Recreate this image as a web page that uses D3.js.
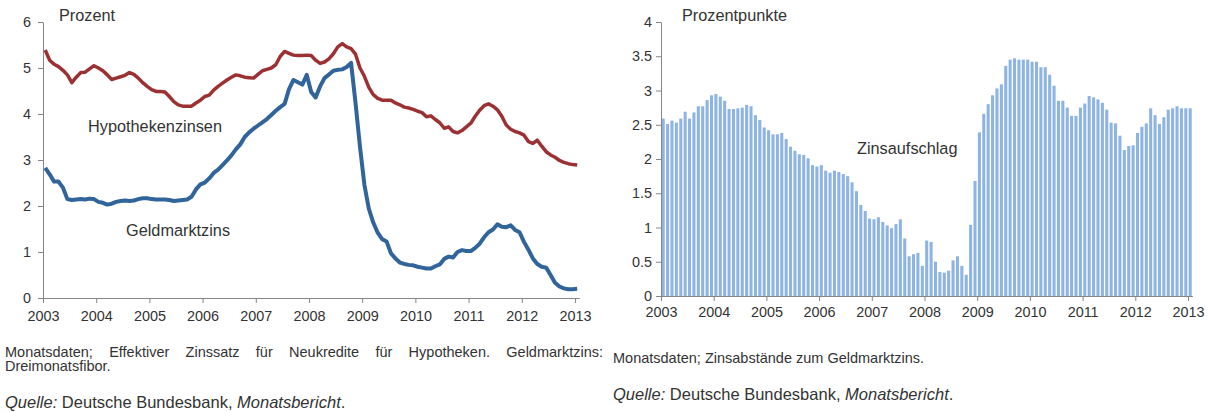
<!DOCTYPE html>
<html>
<head>
<meta charset="utf-8">
<script src="https://cdn.jsdelivr.net/npm/d3@7"></script>
<style>
  body { margin: 0; background: #fff; }
  svg { display: block; font-family: Arial, "Liberation Sans", sans-serif; }
  .axis path, .axis line { stroke: #868686; stroke-width: 1; }
  .axis text { fill: #333; font-size: 14.4px; }
  .label { fill: #333; font-size: 16.3px; }
  .note { fill: #333; font-size: 14.5px; }
  .source { fill: #333; font-size: 16.5px; }
</style>
</head>
<body>
<svg id="chart" width="1211" height="412"></svg>
<script>
// month categories Jan 2003 .. Jan 2013
const months = d3.range(121).map(i => (2003 + Math.floor(i / 12)) + "-" + String(i % 12 + 1).padStart(2, "0"));
const years = ["2003", "2004", "2005", "2006", "2007", "2008", "2009", "2010", "2011", "2012", "2013"];

// Hypothekenzinsen (Prozent)
const hypothek = [
  5.39, 5.17, 5.08, 5.03, 4.95, 4.85, 4.68, 4.80, 4.90, 4.91, 4.98, 5.05,
  5.00, 4.94, 4.85, 4.75, 4.78, 4.81, 4.84, 4.90, 4.86, 4.78, 4.68, 4.60,
  4.53, 4.49, 4.49, 4.48, 4.38, 4.27, 4.20, 4.17, 4.17, 4.17, 4.24, 4.30,
  4.38, 4.41, 4.52, 4.60, 4.67, 4.74, 4.80, 4.85, 4.83, 4.80, 4.79, 4.78,
  4.86, 4.94, 4.97, 5.00, 5.07, 5.25, 5.36, 5.32, 5.28, 5.27, 5.27, 5.28,
  5.27, 5.17, 5.10, 5.13, 5.20, 5.31, 5.46, 5.53, 5.46, 5.42, 5.30, 5.00,
  4.82, 4.58, 4.42, 4.34, 4.30, 4.30, 4.30, 4.24, 4.20, 4.15, 4.13, 4.10,
  4.06, 4.03, 3.94, 3.96, 3.88, 3.81, 3.69, 3.72, 3.62, 3.59, 3.64, 3.72,
  3.80, 3.95, 4.08, 4.18, 4.22, 4.17, 4.09, 3.95, 3.76, 3.67, 3.62, 3.59,
  3.54, 3.40, 3.36, 3.43, 3.30, 3.18, 3.11, 3.06, 2.99, 2.95, 2.92, 2.90,
  2.89
];

// Geldmarktzins, Dreimonatsfibor (Prozent)
const geldmarkt = [
  2.83, 2.69, 2.53, 2.53, 2.40, 2.15, 2.13, 2.14, 2.15, 2.14, 2.16, 2.15,
  2.09, 2.07, 2.03, 2.05, 2.09, 2.11, 2.12, 2.11, 2.12, 2.15, 2.17, 2.17,
  2.15, 2.14, 2.14, 2.14, 2.13, 2.11, 2.12, 2.13, 2.14, 2.20, 2.36, 2.47,
  2.51, 2.60, 2.72, 2.79, 2.89, 2.99, 3.10, 3.23, 3.34, 3.50, 3.60, 3.68,
  3.75, 3.82, 3.89, 3.98, 4.07, 4.15, 4.22, 4.54, 4.74, 4.69, 4.64, 4.85,
  4.48, 4.36, 4.60, 4.78, 4.86, 4.94, 4.96, 4.97, 5.02, 5.11, 4.24, 3.29,
  2.46, 1.94, 1.64, 1.42, 1.28, 1.23, 0.97, 0.86, 0.77, 0.74, 0.72, 0.71,
  0.68, 0.66, 0.64, 0.64, 0.69, 0.73, 0.85, 0.90, 0.88, 1.00, 1.04, 1.02,
  1.02, 1.09, 1.18, 1.32, 1.43, 1.49, 1.60, 1.55, 1.54, 1.58, 1.48, 1.43,
  1.22, 1.05, 0.86, 0.74, 0.68, 0.66, 0.50, 0.33, 0.25, 0.21, 0.19, 0.19,
  0.20
];

// Zinsaufschlag (Prozentpunkte)
const aufschlag = [
  2.59, 2.51, 2.56, 2.53, 2.59, 2.69, 2.59, 2.68, 2.77, 2.77, 2.86, 2.93,
  2.95, 2.91, 2.85, 2.73, 2.73, 2.74, 2.75, 2.79, 2.77, 2.64, 2.57, 2.46,
  2.42, 2.36, 2.36, 2.38, 2.29, 2.18, 2.12, 2.07, 2.06, 2.01, 1.91, 1.89,
  1.91, 1.83, 1.80, 1.83, 1.81, 1.78, 1.75, 1.66, 1.53, 1.33, 1.24, 1.13,
  1.12, 1.15, 1.08, 1.03, 0.99, 1.05, 1.12, 0.84, 0.58, 0.61, 0.63, 0.44,
  0.81, 0.79, 0.50, 0.35, 0.34, 0.37, 0.52, 0.58, 0.44, 0.31, 1.04, 1.68,
  2.39, 2.66, 2.80, 2.93, 3.03, 3.09, 3.36, 3.45, 3.47, 3.45, 3.45, 3.45,
  3.42, 3.42, 3.34, 3.34, 3.23, 3.07, 2.85, 2.85, 2.75, 2.63, 2.63, 2.75,
  2.81, 2.92, 2.90, 2.87, 2.82, 2.72, 2.53, 2.52, 2.34, 2.13, 2.19, 2.20,
  2.38, 2.47, 2.52, 2.74, 2.64, 2.51, 2.61, 2.72, 2.74, 2.77, 2.74, 2.74,
  2.74
];

const leftTicks = [0, 1, 2, 3, 4, 5, 6];
const rightTicks = [0, 0.5, 1, 1.5, 2, 2.5, 3, 3.5, 4];

const svg = d3.select("#chart");

// ---------- left chart: two lines ----------
const left = {x0: 43, x1: 579.4, top: 22, bottom: 298};

const xL = d3.scaleLinear().domain([0, months.length]).range([left.x0, left.x1]);
const yL = d3.scaleLinear().domain([0, 6]).range([left.bottom, left.top]);

svg.append("g")
    .attr("class", "axis")
    .attr("transform", "translate(0," + left.bottom + ")")
    .call(d3.axisBottom(xL)
        .tickValues(years.map((y, i) => i * 12))
        .tickFormat((d, i) => years[i])
        .tickSize(5).tickSizeOuter(0).tickPadding(8));

svg.append("g")
    .attr("class", "axis")
    .attr("transform", "translate(" + left.x0 + ",0)")
    .call(d3.axisLeft(yL)
        .tickValues(leftTicks)
        .tickFormat(d3.format("d"))
        .tickSize(5).tickSizeOuter(0).tickPadding(7));

const line = d3.line()
    .x((d, i) => xL(i + 0.5))
    .y(d => yL(d));

svg.append("path")
    .datum(hypothek)
    .attr("fill", "none")
    .attr("stroke", "#9c3134")
    .attr("stroke-width", 3.5)
    .attr("stroke-linejoin", "round")
    .attr("d", line);

svg.append("path")
    .datum(geldmarkt)
    .attr("fill", "none")
    .attr("stroke", "#30649b")
    .attr("stroke-width", 4)
    .attr("stroke-linejoin", "round")
    .attr("d", line);

svg.append("text").attr("class", "label").attr("x", 59).attr("y", 21).text("Prozent");
svg.append("text").attr("class", "label").attr("x", 88).attr("y", 132).text("Hypothekenzinsen");
svg.append("text").attr("class", "label").attr("x", 126).attr("y", 236).text("Geldmarktzins");

// ---------- right chart: bars ----------
const right = {x0: 661, x1: 1192.4, top: 22, bottom: 296};

const xR = d3.scaleLinear().domain([0, months.length]).range([right.x0, right.x1]);
const xBand = d3.scaleBand().domain(months).range([right.x0, right.x1]).paddingInner(0.3).paddingOuter(0.15);
const yR = d3.scaleLinear().domain([0, 4]).range([right.bottom, right.top]);

svg.append("g")
    .selectAll("rect")
    .data(aufschlag)
    .join("rect")
    .attr("x", (d, i) => xBand(months[i]))
    .attr("width", xBand.bandwidth())
    .attr("y", d => yR(d))
    .attr("height", d => yR(0) - yR(d))
    .attr("fill", "#8eb4e3");

svg.append("g")
    .attr("class", "axis")
    .attr("transform", "translate(0," + right.bottom + ")")
    .call(d3.axisBottom(xR)
        .tickValues(years.map((y, i) => i * 12))
        .tickFormat((d, i) => years[i])
        .tickSize(5).tickSizeOuter(0).tickPadding(6));

svg.append("g")
    .attr("class", "axis")
    .attr("transform", "translate(" + right.x0 + ",0)")
    .call(d3.axisLeft(yR)
        .tickValues(rightTicks)
        .tickFormat(d => String(d))
        .tickSize(5).tickSizeOuter(0).tickPadding(4));

svg.append("text").attr("class", "label").attr("x", 682).attr("y", 21).text("Prozentpunkte");
svg.append("text").attr("class", "label").attr("x", 857).attr("y", 154).text("Zinsaufschlag");

// ---------- notes ----------
// first line is justified: spread the gap between words
let note1 = svg.append("text").attr("class", "note").attr("x", 5).attr("y", 357)
    .text("Monatsdaten; Effektiver Zinssatz für Neukredite für Hypotheken. Geldmarktzins:");
let gaps = note1.text().split(" ").length - 1;
let extra = (598 - note1.node().getComputedTextLength()) / gaps;
note1.attr("word-spacing", extra);

svg.append("text").attr("class", "note").attr("x", 5).attr("y", 371).text("Dreimonatsfibor.");

let src1 = svg.append("text").attr("class", "source").attr("x", 5).attr("y", 408);
src1.append("tspan").attr("font-style", "italic").text("Quelle:");
src1.append("tspan").text(" Deutsche Bundesbank, ");
src1.append("tspan").attr("font-style", "italic").text("Monatsbericht");
src1.append("tspan").text(".");

svg.append("text").attr("class", "note").attr("x", 613).attr("y", 363)
    .text("Monatsdaten; Zinsabstände zum Geldmarktzins.");

let src2 = svg.append("text").attr("class", "source").attr("x", 613).attr("y", 400);
src2.append("tspan").attr("font-style", "italic").text("Quelle:");
src2.append("tspan").text(" Deutsche Bundesbank, ");
src2.append("tspan").attr("font-style", "italic").text("Monatsbericht");
src2.append("tspan").text(".");
</script>
</body>
</html>
